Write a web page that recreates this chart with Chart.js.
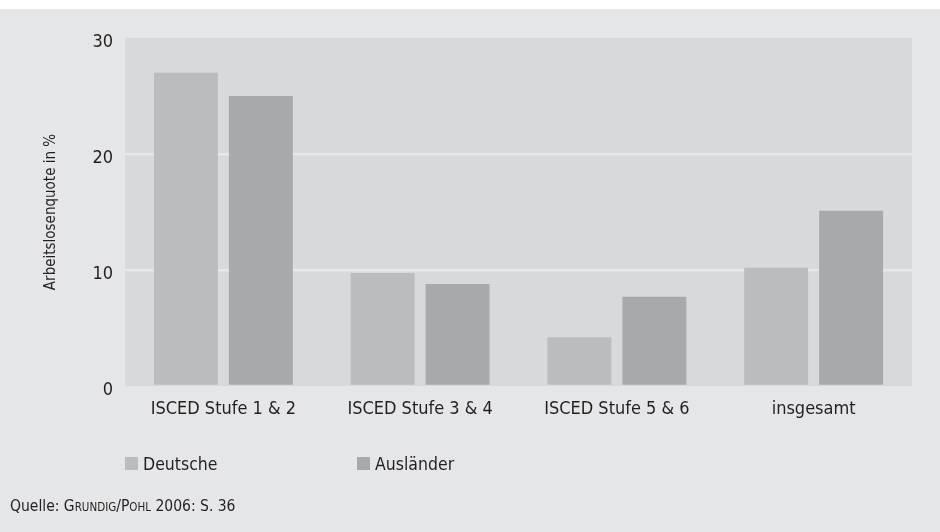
<!DOCTYPE html>
<html>
<head>
<meta charset="utf-8">
<script src="https://cdn.jsdelivr.net/npm/chart.js@4/dist/chart.umd.min.js"></script>
<style>
  html, body { margin: 0; padding: 0; background: #ffffff; }
  #wrap { width: 940px; height: 532px; }
</style>
</head>
<body>
<div id="wrap"><canvas id="myChart" width="940" height="532"></canvas></div>
<script>
var categories = ['ISCED Stufe 1 & 2', 'ISCED Stufe 3 & 4', 'ISCED Stufe 5 & 6', 'insgesamt'];
var deutsche = [27, 9.75, 4.2, 10.2];
var auslaender = [25, 8.8, 7.7, 15.1];
var yTicks = [0, 10, 20, 30];

var FONT = "'DejaVu Sans Condensed', 'Liberation Sans', sans-serif";
var TEXT = '#231f20';

// panel background, plot background, own legend and source line
var panelPlugin = {
    id: 'panel',
    beforeDraw: function (chart) {
        var c = chart.ctx, a = chart.chartArea;
        c.save();
        c.fillStyle = '#e5e6e8';
        c.fillRect(0, 9, chart.width, chart.height - 9);
        c.fillStyle = '#d8d9db';
        c.fillRect(a.left, a.top, a.right - a.left, a.bottom - a.top);
        c.restore();
    },
    afterDraw: function (chart) {
        var c = chart.ctx;
        c.save();
        // legend
        var legendX = [125, 357];
        chart.data.datasets.forEach(function (ds, i) {
            c.fillStyle = ds.backgroundColor;
            c.fillRect(legendX[i], 457, 13, 13);
            c.fillStyle = TEXT;
            c.font = '17.5px ' + FONT;
            c.textBaseline = 'alphabetic';
            c.fillText(ds.label, legendX[i] + 18, 470);
        });
        // source with small caps names
        var parts = [
            ['Quelle: ', 15.5], ['G', 15.5], ['RUNDIG', 11.5], ['/', 15.5],
            ['P', 15.5], ['OHL', 11.5], [' 2006: S. 36', 15.5]
        ];
        var x = 10;
        parts.forEach(function (p) {
            c.font = p[1] + 'px ' + FONT;
            c.fillText(p[0], x, 511);
            x += c.measureText(p[0]).width;
        });
        c.restore();
    }
};

var ctx = document.getElementById('myChart').getContext('2d');
var myChart = new Chart(ctx, {
    type: 'bar',
    data: {
        labels: categories,
        datasets: [{
            label: 'Deutsche',
            data: deutsche,
            backgroundColor: '#bbbcbf',
            categoryPercentage: 0.762,
            barPercentage: 0.853
        }, {
            label: 'Ausländer',
            data: auslaender,
            backgroundColor: '#a8a9ac',
            categoryPercentage: 0.762,
            barPercentage: 0.853
        }]
    },
    options: {
        responsive: false,
        animation: false,
        layout: { padding: { left: 0, right: 28, top: 38, bottom: 106 } },
        plugins: {
            legend: { display: false },
            tooltip: { enabled: false }
        },
        scales: {
            x: {
                grid: { display: false, drawTicks: false },
                border: { display: false },
                ticks: { color: TEXT, font: { family: FONT, size: 18 }, padding: 13 },
                afterFit: function (s) { s.height = 40; }
            },
            y: {
                min: 0,
                max: 30,
                afterBuildTicks: function (s) {
                    s.ticks = yTicks.map(function (v) { return { value: v }; });
                },
                grid: {
                    drawTicks: false,
                    lineWidth: 2.5,
                    color: function (c) {
                        return (c.tick && (c.tick.value === 0 || c.tick.value === 30)) ? 'rgba(0,0,0,0)' : '#e7e8ea';
                    }
                },
                border: { display: false },
                ticks: { color: TEXT, font: { family: FONT, size: 18 }, padding: 12, labelOffset: 4 },
                title: {
                    display: true,
                    text: 'Arbeitslosenquote in %',
                    color: TEXT,
                    font: { family: FONT, size: 15 },
                    padding: { top: 42, bottom: 0 }
                },
                afterFit: function (s) { s.width = 125; }
            }
        }
    },
    plugins: [panelPlugin]
});
</script>
</body>
</html>
